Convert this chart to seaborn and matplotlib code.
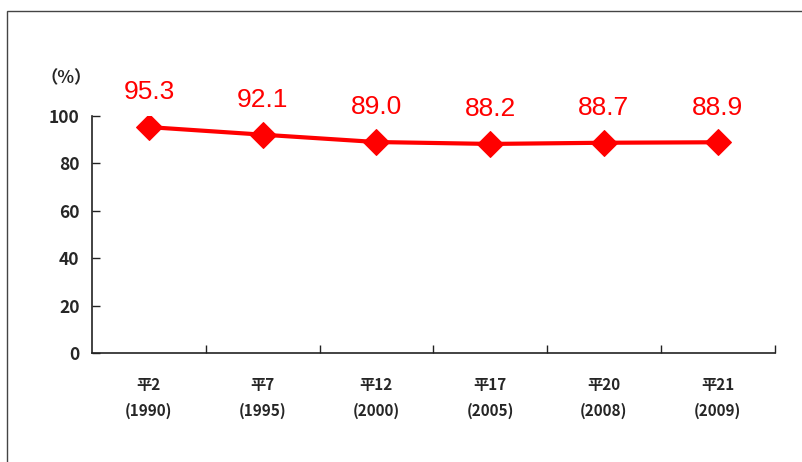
import numpy as np
import pandas as pd
import seaborn as sns
import matplotlib.pyplot as plt
from matplotlib.patches import Rectangle

# data
periods = ['平2\n(1990)', '平7\n(1995)', '平12\n(2000)', '平17\n(2005)', '平20\n(2008)', '平21\n(2009)']
rates = [95.3, 92.1, 89.0, 88.2, 88.7, 88.9]

df = pd.DataFrame({'pos': np.arange(len(periods)), 'rate': rates})

sns.set_style('ticks')
plt.rcParams['font.family'] = ['Noto Sans CJK JP', 'DejaVu Sans']

fig = plt.figure(figsize=(8.03, 4.62), dpi=100)
ax = fig.add_axes([0.1146, 0.236, 0.85, 0.513])

# frame around the whole picture
fig.patches.append(Rectangle((7 / 803, -0.2), 1.2, 1.2 - 11 / 462,
                             transform=fig.transFigure, fill=False,
                             edgecolor='#444444', linewidth=1.0))

sns.lineplot(data=df, x='pos', y='rate', ax=ax, color='#ff0000', linewidth=3,
             marker='D', markersize=13, markeredgecolor='#ff0000')

for i, v in enumerate(rates):
    ax.annotate(f'{v:.1f}', (i, v), xytext=(0, 25), textcoords='offset points',
                ha='center', va='center', color='#ff0000', fontsize=19,
                family=['Liberation Sans Narrow', 'Liberation Sans', 'DejaVu Sans'])

ax.set_xlim(-0.5, len(periods) - 0.5)
ax.set_ylim(0, 100)
ax.set_yticks(range(0, 101, 20))
ax.set_xticks(np.arange(len(periods)) + 0.5)
ax.set_xticklabels([])
ax.set_xticks(np.arange(len(periods)), minor=True)
ax.set_xticklabels(periods, minor=True, fontweight='bold', fontsize=11, linespacing=1.8)
ax.tick_params(axis='x', which='minor', length=0, pad=17)
ax.tick_params(axis='both', which='major', direction='in', length=6, width=1, color='#222222')
ax.tick_params(axis='y', labelsize=12.5, pad=9)
for lab in ax.get_yticklabels():
    lab.set_fontweight('bold')
ax.set_xlabel('')
ax.set_ylabel('')
for s in ['top', 'right']:
    ax.spines[s].set_visible(False)
for s in ['left', 'bottom']:
    ax.spines[s].set_color('#222222')
    ax.spines[s].set_linewidth(1.2)

fig.text(66 / 803, 1 - 78 / 462, '（%）', ha='center', va='center', fontsize=12.5, fontweight='bold')

fig.savefig('out.png', dpi=100)
